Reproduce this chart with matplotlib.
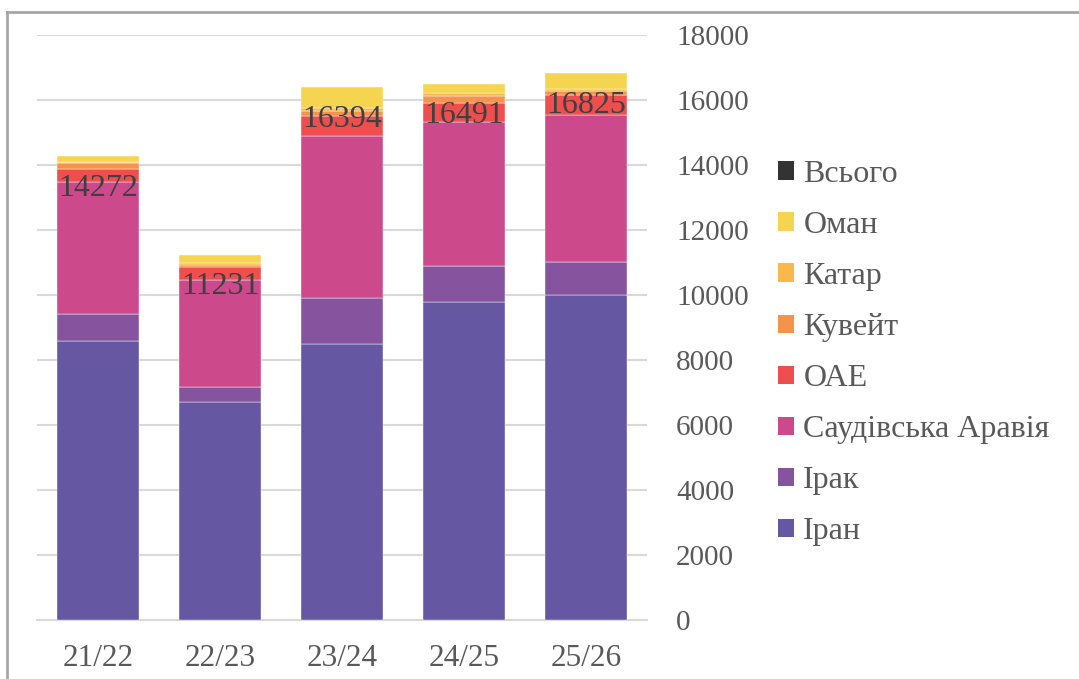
import matplotlib.pyplot as plt
import numpy as np
from matplotlib.patches import Patch
from matplotlib.lines import Line2D

plt.rcParams['font.family'] = ['Liberation Serif', 'DejaVu Serif']

seasons = ['21/22', '22/23', '23/24', '24/25', '25/26']
iran = [8600, 6700, 8500, 9800, 10000]
iraq = [820, 460, 1400, 1090, 1030]
saudi = [4070, 3300, 4990, 4440, 4510]
uae = [390, 390, 620, 590, 610]
kuwait = [190, 80, 150, 200, 130]
qatar = [30, 60, 90, 90, 50]
oman = [172, 241, 644, 281, 495]
totals = [14272, 11231, 16394, 16491, 16825]

series = [
    ('Іран', iran, '#6557A2'),
    ('Ірак', iraq, '#86549E'),
    ('Саудівська Аравія', saudi, '#CC4A8C'),
    ('ОАЕ', uae, '#EF4E4F'),
    ('Кувейт', kuwait, '#F5924B'),
    ('Катар', qatar, '#F8B84C'),
    ('Оман', oman, '#F5D54F'),
]

fig = plt.figure(figsize=(10.79, 6.79), dpi=100)
ax = fig.add_axes([37 / 1079, 1 - 620 / 679, 610 / 1079, 585 / 679])

x = np.arange(len(seasons))
bottom = np.zeros(len(seasons))
handles = []
for name, vals, col in series:
    ax.bar(x, vals, 0.67, bottom=bottom, color=col, edgecolor='white', linewidth=0.3, zorder=3)
    bottom += np.array(vals)
    handles.append(Patch(facecolor=col, label=name))
handles.append(Patch(facecolor='#333333', label='Всього'))

# підписи загальної суми
for xi, t in zip(x, totals):
    ax.annotate(str(t), (xi, t), xytext=(0, -23), textcoords='offset points',
                ha='center', va='center', fontsize=23, color='#404040', zorder=5)

ax.set_xlim(-0.5, len(seasons) - 0.5)
ax.set_ylim(0, 18000)
ax.set_yticks(np.arange(0, 18001, 2000))
ax.yaxis.tick_right()
ax.grid(axis='y', color='#D9D9D9', linewidth=1.5, zorder=0)
ax.set_xticks(x)
ax.set_xticklabels(seasons)
ax.tick_params(axis='both', length=0, labelcolor='#595959')
ax.tick_params(axis='x', pad=17, labelsize=22.5)
ax.tick_params(axis='y', pad=21, labelsize=21)
for s in ['top', 'left', 'right']:
    ax.spines[s].set_visible(False)
ax.spines['bottom'].set_color('#D9D9D9')
ax.spines['bottom'].set_linewidth(1.5)

leg = fig.legend(handles=handles[::-1], loc='center left',
                 bbox_to_anchor=(749 / 1079, 1 - 353 / 679), frameon=False,
                 fontsize=23, handlelength=0.5, handleheight=0.5,
                 handletextpad=0.3, labelspacing=0.69)
for t in leg.get_texts():
    t.set_color('#595959')

# рамка області діаграми
fig.add_artist(Line2D([7 / 1079, 1], [1 - 12 / 679, 1 - 12 / 679], color='#A6A6A6', linewidth=2))
fig.add_artist(Line2D([7 / 1079, 7 / 1079], [0, 1 - 12 / 679], color='#A6A6A6', linewidth=2))

fig.savefig('out.png', dpi=100)
